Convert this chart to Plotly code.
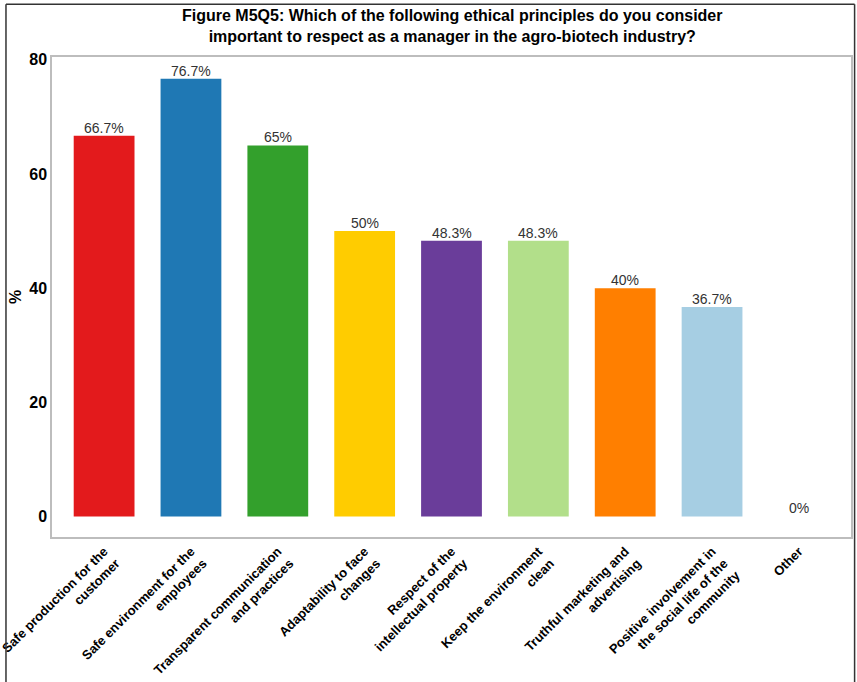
import plotly.graph_objects as go

# Survey responses: share of respondents choosing each ethical principle
categories = [
    "Safe production for the<br>customer",
    "Safe environment for the<br>employees",
    "Transparent communication<br>and practices",
    "Adaptability to face<br>changes",
    "Respect of the<br>intellectual property",
    "Keep the environment<br>clean",
    "Truthful marketing and<br>advertising",
    "Positive involvement in<br>the social life of the<br>community",
    "Other",
]
percentages = [66.7, 76.7, 65, 50, 48.3, 48.3, 40, 36.7, 0]
value_labels = ["66.7%", "76.7%", "65%", "50%", "48.3%", "48.3%", "40%", "36.7%", "0%"]
bar_colors = ["#E31A1C", "#1F78B4", "#33A02C", "#FFCC00", "#6A3D9A",
              "#B2DF8A", "#FF7F00", "#A6CEE3", "#CAB2D6"]

FONT = "Liberation Sans, Arial, sans-serif"

fig = go.Figure(
    go.Bar(
        x=categories,
        y=percentages,
        marker=dict(color=bar_colors, line=dict(width=0)),
        width=0.7,
        hoverinfo="x+y",
    )
)

# Value labels just above each bar
for cat, val, lab in zip(categories, percentages, value_labels):
    fig.add_annotation(
        x=cat, y=val, text=lab,
        xref="x", yref="y",
        yanchor="bottom", yshift=-2,
        showarrow=False,
        font=dict(family=FONT, size=14, color="#333333"),
    )

fig.update_layout(
    width=857,
    height=682,
    margin=dict(l=52, r=6, t=57, b=145, autoexpand=False),
    paper_bgcolor="white",
    plot_bgcolor="white",
    font=dict(family=FONT, color="black"),
    showlegend=False,
    bargap=0.3,
)

# Two-line bold title above the panel
fig.add_annotation(
    text="<b>Figure M5Q5: Which of the following ethical principles do you consider<br>"
         "important to respect as a manager in the agro-biotech industry?</b>",
    xref="paper", yref="paper",
    x=0.5, y=1.0645,
    xanchor="center", yanchor="middle",
    showarrow=False,
    font=dict(family=FONT, size=16, color="black"),
)

# Y-axis title
fig.add_annotation(
    text="<b>%</b>",
    xref="paper", yref="paper",
    x=-0.0463, y=0.5,
    xanchor="center", yanchor="middle",
    textangle=-90,
    showarrow=False,
    font=dict(family=FONT, size=16, color="black"),
)

fig.update_xaxes(
    tickangle=-45,
    tickfont=dict(family=FONT, size=13, color="black", weight="bold"),
    showgrid=False,
    showline=True,
    linecolor="#BDBDBD",
    linewidth=1.5,
    mirror=True,
    ticks="",
    range=[-0.6, 8.6],
    automargin=False,
)

fig.update_yaxes(
    range=[-3.6, 80.5],
    tickvals=[0, 20, 40, 60, 80],
    tickfont=dict(family=FONT, size=16, color="black", weight="bold"),
    showgrid=False,
    zeroline=False,
    showline=True,
    linecolor="#BDBDBD",
    linewidth=1.5,
    mirror=True,
    ticks="",
    automargin=False,
)

# Frame around the figure (left, top and right edges)
frame = dict(type="line", xref="paper", yref="paper",
             line=dict(color="#333333", width=1.5), layer="above")
x_left, x_right, y_top, y_bottom = -0.0576, 1.0045, 1.110, -0.40
fig.add_shape(x0=x_left, x1=x_left, y0=y_bottom, y1=y_top, **frame)
fig.add_shape(x0=x_left, x1=x_right, y0=y_top, y1=y_top, **frame)
fig.add_shape(x0=x_right, x1=x_right, y0=y_bottom, y1=y_top, **frame)

fig.write_html("out.html")
